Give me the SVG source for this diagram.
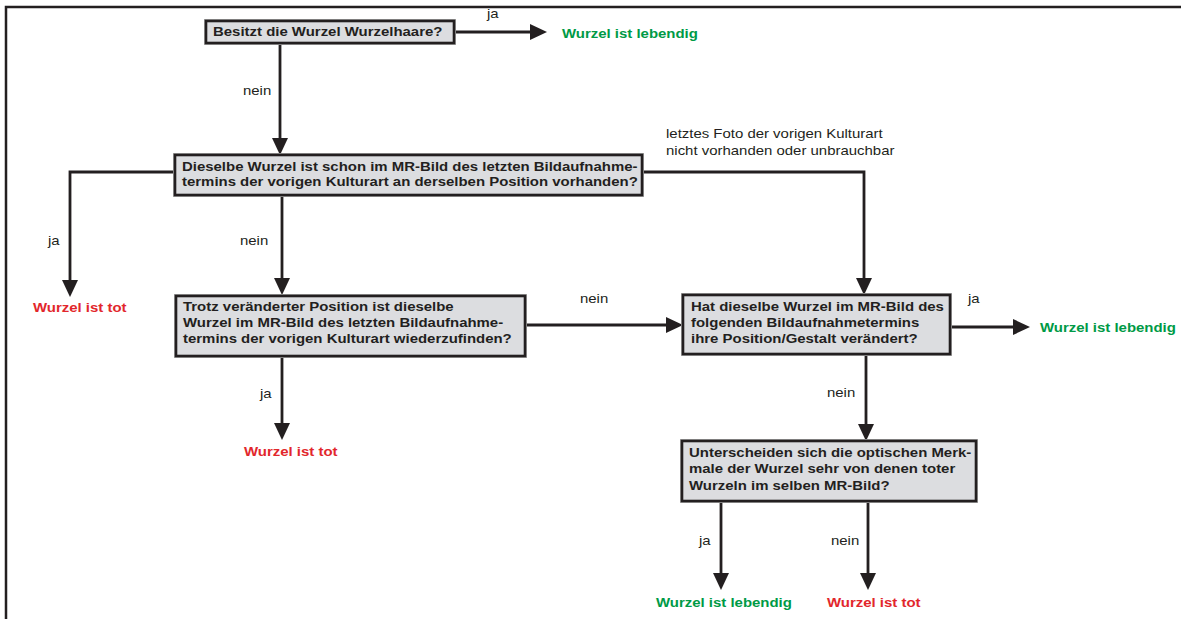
<svg xmlns="http://www.w3.org/2000/svg" width="1181" height="619" viewBox="0 0 1181 619">
<style>
.frame{stroke:#231f20;stroke-width:2.5;fill:none}
.box{fill:#dcdde0;stroke:#231f20;stroke-width:2.6}
.boxh{fill:none;stroke:#a8a8a8;stroke-width:4}
.c{fill:none;stroke:#231f20;stroke-width:2.8;marker-end:url(#ah)}
.cn{fill:none;stroke:#231f20;stroke-width:2.8}
.q{font-family:"Liberation Sans",Arial,sans-serif;font-weight:bold;font-size:13px;fill:#231f20}
.l{font-family:"Liberation Sans",Arial,sans-serif;font-size:13px;fill:#231f20}
.g{font-family:"Liberation Sans",Arial,sans-serif;font-weight:bold;font-size:13px;fill:#009a46}
.r{font-family:"Liberation Sans",Arial,sans-serif;font-weight:bold;font-size:13px;fill:#e2272c}
</style>
<defs>
<marker id="ah" viewBox="0 0 17 16" refX="12" refY="8" markerWidth="17" markerHeight="16" markerUnits="userSpaceOnUse" orient="auto">
<path d="M0,0 L17,8 L0,16 Z" fill="#231f20"/>
</marker>
</defs>
<rect width="1181" height="619" fill="#ffffff"/>
<path class="frame" d="M6,619 V7 H1181"/>

<g id="connectors">
<path class="c" d="M454,32 H542"/>
<path class="c" d="M280,43 V150"/>
<path class="c" d="M175,172 H70 V292"/>
<path class="c" d="M282,195 V290"/>
<path class="c" d="M642,172 H864 V290"/>
<path class="c" d="M525,325 H678"/>
<path class="c" d="M282,356 V435"/>
<path class="c" d="M950,327 H1025"/>
<path class="c" d="M866,354 V436"/>
<path class="c" d="M721,501 V585"/>
<path class="c" d="M868,501 V585"/>
</g>

<g id="edge-labels">
<text class="l" transform="translate(487 18) scale(1.15 1)">ja</text>
<text class="l" transform="translate(243 95) scale(1.15 1)">nein</text>
<text class="l" transform="translate(48 245) scale(1.15 1)">ja</text>
<text class="l" transform="translate(240 245) scale(1.15 1)">nein</text>
<text class="l" transform="translate(666 138) scale(1.15 1)"><tspan x="0" y="0">letztes Foto der vorigen Kulturart</tspan><tspan x="0" y="17">nicht vorhanden oder unbrauchbar</tspan></text>
<text class="l" transform="translate(580 303) scale(1.15 1)">nein</text>
<text class="l" transform="translate(260 398) scale(1.15 1)">ja</text>
<text class="l" transform="translate(968 303) scale(1.15 1)">ja</text>
<text class="l" transform="translate(827 397) scale(1.15 1)">nein</text>
<text class="l" transform="translate(699 545) scale(1.15 1)">ja</text>
<text class="l" transform="translate(831 545) scale(1.15 1)">nein</text>
</g>

<g id="q1">
<rect class="boxh" x="206" y="21" width="248" height="22"/>
<rect class="box" x="206" y="21" width="248" height="22"/>
<text class="q" transform="translate(213 36) scale(1.15 1)">Besitzt die Wurzel Wurzelhaare?</text>
</g>

<g id="q2">
<rect class="boxh" x="175" y="155" width="467" height="40"/>
<rect class="box" x="175" y="155" width="467" height="40"/>
<text class="q" transform="translate(182 171) scale(1.15 1)"><tspan x="0" y="0">Dieselbe Wurzel ist schon im MR-Bild des letzten Bildaufnahme-</tspan><tspan x="0" y="15.5">termins der vorigen Kulturart an derselben Position vorhanden?</tspan></text>
</g>

<g id="q3">
<rect class="boxh" x="176" y="296" width="349" height="60"/>
<rect class="box" x="176" y="296" width="349" height="60"/>
<text class="q" transform="translate(183 311) scale(1.15 1)"><tspan x="0" y="0">Trotz veränderter Position ist dieselbe</tspan><tspan x="0" y="16">Wurzel im MR-Bild des letzten Bildaufnahme-</tspan><tspan x="0" y="32">termins der vorigen Kulturart wiederzufinden?</tspan></text>
</g>

<g id="q4">
<rect class="boxh" x="683" y="295" width="267" height="59"/>
<rect class="box" x="683" y="295" width="267" height="59"/>
<text class="q" transform="translate(691 311) scale(1.15 1)"><tspan x="0" y="0">Hat dieselbe Wurzel im MR-Bild des</tspan><tspan x="0" y="16">folgenden Bildaufnahmetermins</tspan><tspan x="0" y="32">ihre Position/Gestalt verändert?</tspan></text>
</g>

<g id="q5">
<rect class="boxh" x="682" y="441" width="294" height="60"/>
<rect class="box" x="682" y="441" width="294" height="60"/>
<text class="q" transform="translate(689 457) scale(1.15 1)"><tspan x="0" y="0">Unterscheiden sich die optischen Merk-</tspan><tspan x="0" y="16.5">male der Wurzel sehr von denen toter</tspan><tspan x="0" y="33">Wurzeln im selben MR-Bild?</tspan></text>
</g>

<g id="r1"><text class="g" transform="translate(562 38) scale(1.15 1)">Wurzel ist lebendig</text></g>
<g id="r2"><text class="r" transform="translate(33 312) scale(1.15 1)">Wurzel ist tot</text></g>
<g id="r3"><text class="r" transform="translate(244 456) scale(1.15 1)">Wurzel ist tot</text></g>
<g id="r4"><text class="g" transform="translate(1040 332) scale(1.15 1)">Wurzel ist lebendig</text></g>
<g id="r5"><text class="g" transform="translate(656 607) scale(1.15 1)">Wurzel ist lebendig</text></g>
<g id="r6"><text class="r" transform="translate(827 607) scale(1.15 1)">Wurzel ist tot</text></g>
</svg>
